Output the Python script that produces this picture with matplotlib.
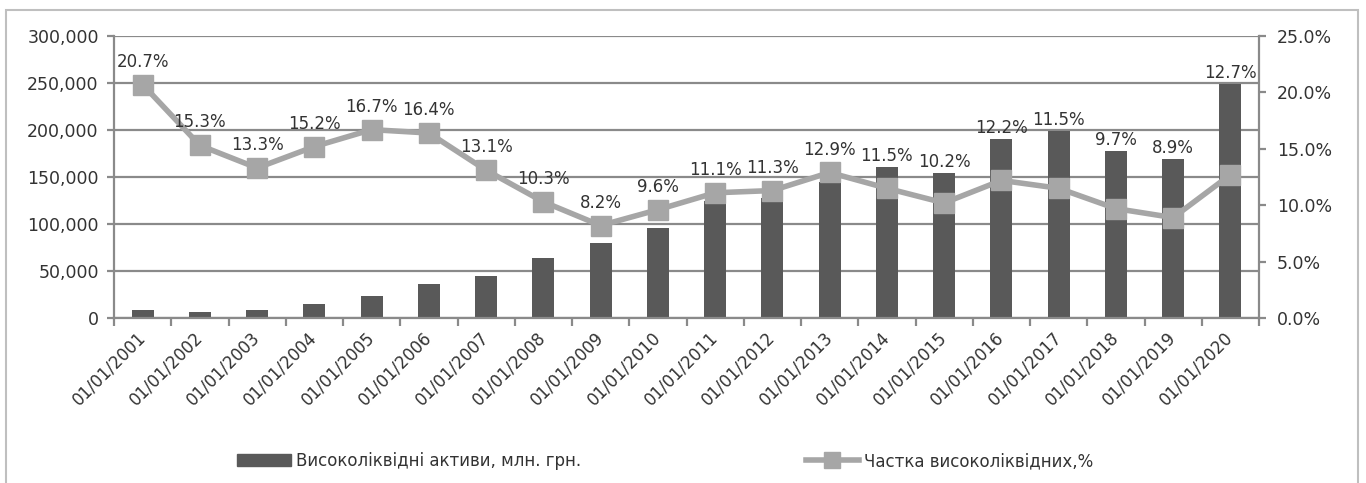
import numpy as np
import matplotlib
matplotlib.use("Agg")
import matplotlib.pyplot as plt
from matplotlib.patches import Rectangle
from matplotlib.lines import Line2D

# data
dates = ["01/01/%d" % y for y in range(2001, 2021)]
assets = [8100, 6400, 8800, 15200, 23700, 36000, 45200, 63900, 79400, 95300,
          124000, 128000, 145000, 160600, 154600, 190600, 198800, 177600, 169400, 249000]
share = [20.7, 15.3, 13.3, 15.2, 16.7, 16.4, 13.1, 10.3, 8.2, 9.6,
         11.1, 11.3, 12.9, 11.5, 10.2, 12.2, 11.5, 9.7, 8.9, 12.7]
left_ticks = [0, 50000, 100000, 150000, 200000, 250000, 300000]
right_ticks = [0, 5, 10, 15, 20, 25]

BAR = "#595959"
LINE = "#a6a6a6"
GRID = "#8a8a8a"
FS = 12

plt.rcParams["font.family"] = ["DejaVu Sans"]
fig = plt.figure(figsize=(13.66, 4.83), dpi=100)
fig.patches.append(Rectangle((6 / 1366, -0.1), 1352 / 1366, 1.1 - 10 / 483, transform=fig.transFigure,
                             fill=False, ec="#bfbfbf", lw=1.5))

ax = fig.add_axes([114 / 1366, 1 - 318 / 483, 1145 / 1366, 282 / 483])
x = np.arange(len(dates))
ax.bar(x, assets, width=0.38, color=BAR, zorder=2)
ax.set_xlim(-0.5, len(dates) - 0.5)
ax.set_ylim(0, 300000)
ax.set_yticks(left_ticks)
ax.set_yticklabels(["{:,}".format(v) for v in left_ticks], fontsize=FS + 0.5, color="#333333")
ax.yaxis.grid(True, color=GRID, lw=1.6, zorder=0)
ax.set_axisbelow(True)
ax.tick_params(axis="y", length=5, width=1.6, color=GRID, pad=6)
ax.set_xticks(x)
ax.set_xticklabels(dates, rotation=45, ha="right", va="center", rotation_mode="anchor",
                   fontsize=FS, color="#333333")
ax.set_xticks(np.arange(-0.5, len(dates)), minor=True)
ax.tick_params(axis="x", which="major", length=0, pad=12)
ax.tick_params(axis="x", which="minor", length=6, width=1.6, color=GRID)
for s in ("top", "right"):
    ax.spines[s].set_visible(False)
for s in ("left", "bottom"):
    ax.spines[s].set_color(GRID)
    ax.spines[s].set_linewidth(1.6)

ax2 = ax.twinx()
ax2.plot(x, share, color=LINE, lw=4, marker="s", ms=15, zorder=3)
ax2.set_ylim(0, 25)
ax2.set_yticks(right_ticks)
ax2.set_yticklabels(["%.1f%%" % v for v in right_ticks], fontsize=FS + 0.5, color="#333333")
ax2.tick_params(axis="y", length=5, width=1.6, color=GRID, pad=8)
for s in ("top", "left", "bottom"):
    ax2.spines[s].set_visible(False)
ax2.spines["right"].set_color(GRID)
ax2.spines["right"].set_linewidth(1.6)

# data labels: above the marker, or above the bar when the bar is taller
px = 282 / 300000
for i, (a, p) in enumerate(zip(assets, share)):
    m = p / 25 * 300000
    if a * px + 11 > m * px + 23:
        ax2.annotate("%.1f%%" % p, (i, a / 12000), xytext=(0, 8), textcoords="offset points",
                     ha="center", va="center", fontsize=FS, color="#333333", zorder=5)
    else:
        ax2.annotate("%.1f%%" % p, (i, p), xytext=(0, 16.5), textcoords="offset points",
                     ha="center", va="center", fontsize=FS, color="#333333", zorder=5)

handles = [Rectangle((0, 0), 1, 1, color=BAR),
           Line2D([], [], color=LINE, lw=4, marker="s", ms=11)]
fig.legend(handles, ["Високоліквідні активи, млн. грн.", "Частка високоліквідних,%"],
           loc="center", bbox_to_anchor=(0.487, 1 - 461 / 483), ncol=2, frameon=False,
           fontsize=FS, handlelength=3.2, handletextpad=0.3, columnspacing=13.5,
           labelcolor="#333333")

fig.savefig("out.png", dpi=100)
